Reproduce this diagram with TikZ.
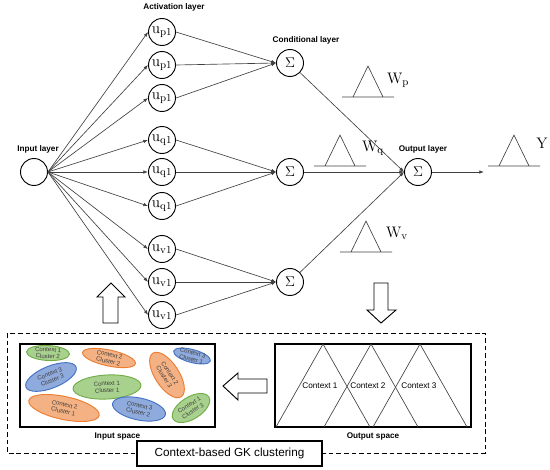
\documentclass[tikz,border=0pt]{standalone}
\usepackage{fontspec}
\setsansfont{Liberation Sans}
\usetikzlibrary{positioning,arrows.meta,shapes.geometric}

\definecolor{fillgreen}{HTML}{A9D18E}
\definecolor{linegreen}{HTML}{70AD47}
\definecolor{fillorange}{HTML}{F4B183}
\definecolor{lineorange}{HTML}{ED7D31}
\definecolor{fillblue}{HTML}{8FAADC}
\definecolor{lineblue}{HTML}{4472C4}
\definecolor{wire}{HTML}{404040}

\begin{document}
\begin{tikzpicture}[
  x=0.03cm, y=-0.03cm,
  >={Latex[length=4pt,width=3pt]},
  neuron/.style={circle, draw, line width=0.8pt, minimum size=0.81cm, inner sep=0pt, font=\fontsize{13}{13}\selectfont},
  layer/.style={font=\sffamily\bfseries\fontsize{7}{8}\selectfont, inner sep=1pt},
  conn/.style={->, draw=wire, line width=0.55pt},
  memb/.style={draw=wire, line width=0.55pt},
  wlbl/.style={font=\fontsize{13}{13}\selectfont, inner sep=0pt},
  ell/.style={ellipse, line width=0.8pt, inner sep=0pt},
  ctx/.style={font=\sffamily\fontsize{5.2}{5.8}\selectfont, text=black!75, align=center, inner sep=0pt},
  frame/.style={draw, line width=0.9pt, fill=white, inner sep=0pt},
  blockarrow/.style={draw, line width=0.8pt, fill=white},
]
  \useasboundingbox (0,0) rectangle (550,470);

  % Network: input, activation, conditional and output layers
  \node[neuron] (in) at (34,172) {};
  \node[layer] at (38,149) {Input layer};
  \node[layer] at (174,7) {Activation layer};
  \node[layer] at (306,40) {Conditional layer};
  \node[layer] at (423,149) {Output layer};

  \foreach \g/\y [count=\i] in {p/32, p/65, p/98, q/140, q/172, q/206, v/249, v/282, v/315} {
    \node[neuron] (u\i) at (162,\y) {$\mathrm{u}_{\mathrm{\g 1}}$};
    \draw[conn] (in.east) -- (u\i.west);
  }

  \node[neuron] (cp) at (290,63) {$\Sigma$};
  \node[neuron] (cq) at (290,172) {$\Sigma$};
  \node[neuron] (cv) at (290,282) {$\Sigma$};
  \foreach \i in {1,2,3} \draw[conn] (u\i.east) -- (cp.west);
  \foreach \i in {4,5,6} \draw[conn] (u\i.east) -- (cq.west);
  \foreach \i in {7,8,9} \draw[conn] (u\i.east) -- (cv.west);

  \node[neuron] (out) at (418,172) {$\Sigma$};
  \coordinate (yout) at (484,172);
  \draw[conn] (cp) -- (out.west);
  \draw[conn] (cq) -- (out.west);
  \draw[conn] (cv) -- (out.west);
  \draw[conn] (out.east) -- (yout);

  % Fuzzy sets of the weights and of the output
  \foreach \ax/\by in {368/97, 340/166, 366/252, 514/166}
    \draw[memb] (\ax-26,\by) -- (\ax+26,\by) (\ax-15,\by) -- (\ax,\by-31) -- (\ax+15,\by);
  \node[wlbl] at (398,80) {$\mathrm{W}_{\mathrm{p}}$};
  \node[wlbl] at (373,148) {$\mathrm{W}_{\mathrm{q}}$};
  \node[wlbl] at (397,233) {$\mathrm{W}_{\mathrm{v}}$};
  \node[wlbl] at (542,143) {$\mathrm{Y}$};

  % Block arrows
  \draw[blockarrow] (103,323) -- (103,297) -- (97,297) -- (111,283) -- (125,297) -- (118,297) -- (118,323) -- cycle;
  \draw[blockarrow] (374,283) -- (374,310) -- (367,310) -- (381,323) -- (396,310) -- (388,310) -- (388,283) -- cycle;
  \draw[blockarrow] (267,379) -- (238,379) -- (238,373) -- (223,386) -- (238,400) -- (238,393) -- (267,393) -- cycle;

  % Context-based GK clustering
  \draw[line width=0.8pt, dash pattern=on 4pt off 2.5pt] (7,333) rectangle (485,453);
  \node[frame, minimum width=5.55cm, minimum height=0.75cm, font=\sffamily\fontsize{10}{12}\selectfont] (gk) at (229.5,453.5) {Context-based GK clustering};

  \node[frame, minimum width=5.85cm, minimum height=2.49cm] (inbox) at (117.5,385.5) {};
  \node[layer, below=3pt of inbox] {Input space};
  \foreach \ex/\ey/\ew/\eh/\er/\col/\c/\k in {
      48/353/43/15/-3/green/1/2, 109/358/54/16/-12/orange/2/2, 51/377/54/22/22/blue/3/3,
      107/387/68/24/3/green/1/1, 167/375/52/24/-57/orange/2/3, 192/356/38/13/-15/blue/3/1,
      64/408/72/23/-12/orange/2/1, 139/409/54/22/-12/blue/3/2, 191/408/42/22/32/green/1/3} {
    \node[ell, fill=fill\col, draw=line\col, minimum width=\ew*0.03cm, minimum height=\eh*0.03cm, rotate=\er] (e\c\k) at (\ex,\ey) {};
    \node[ctx, rotate=\er] at (e\c\k) {Context \c\\Cluster \k};
  }

  \node[frame, minimum width=5.88cm, minimum height=2.49cm] (outbox) at (373,385.5) {};
  \node[layer, below=3pt of outbox] {Output space};
  \foreach \ax in {323, 371, 420}
    \draw[memb] (\ax-47,427) -- (\ax,344) -- (\ax+47,427);
  \foreach \ax [count=\i] in {320, 368, 419}
    \node[font=\sffamily\fontsize{7}{8}\selectfont, inner sep=0.5pt] (ctx\i) at (\ax,386) {Context \i};
\end{tikzpicture}
\end{document}
